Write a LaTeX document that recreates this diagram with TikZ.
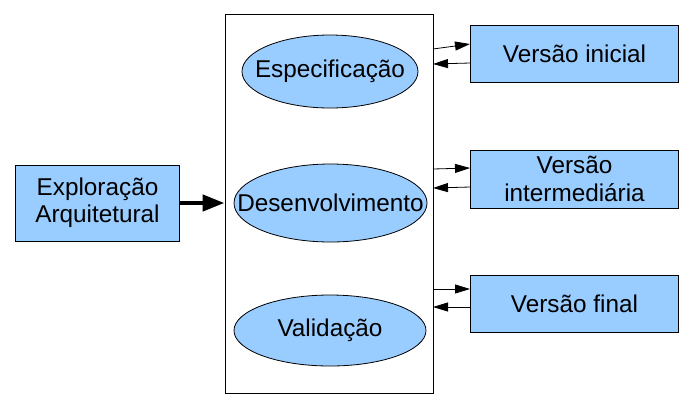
\documentclass[tikz,border=0pt]{standalone}
\usepackage{fontspec}
\setmainfont{Liberation Sans}
\usetikzlibrary{arrows.meta,shapes.geometric}
\definecolor{boxblue}{RGB}{153,204,255}
\tikzset{
  txt/.style={font=\fontsize{24.4}{27.5}\selectfont, align=center, text=black},
  bluebox/.style={txt, draw=black, line width=1bp, fill=boxblue, inner sep=0pt},
  blueell/.style={ellipse, draw=black, line width=0.8bp, fill=boxblue, inner sep=0pt},
  thinarr/.style={line width=0.8bp, -{Triangle[length=15bp,width=9bp]}},
  thickarr/.style={line width=4.5bp, -{Triangle[length=22bp,width=16bp]}}
}
\begin{document}
\begin{tikzpicture}[x=1bp,y=-1bp]
\useasboundingbox (0,0) rectangle (690,410);
% frame
\node[draw=black, line width=1bp, minimum width=208bp, minimum height=379bp, inner sep=0pt] (frame) at (329,203.5) {};
% ellipses
\node[blueell, minimum width=176bp, minimum height=73bp, label={[txt]center:Especificação}] (esp) at (330,71.5) {};
\node[blueell, minimum width=193bp, minimum height=78bp, label={[txt]center:Desenvolvimento}] (des) at (330.5,203) {};
\node[blueell, minimum width=192bp, minimum height=71bp, label={[txt]center:Validação}] (val) at (330,330.5) {};
% right boxes
\node[bluebox, minimum width=208bp, minimum height=57bp] (v1) at (574.5,53.5) {Versão inicial};
\node[bluebox, minimum width=208bp, minimum height=58bp] (v2) at (574.5,179) {Versão\\intermediária};
\node[bluebox, minimum width=208bp, minimum height=57bp] (v3) at (574.5,303.5) {Versão final};
% left box
\node[bluebox, minimum width=163bp, minimum height=76bp] (exp) at (97.5,203) {Exploração\\Arquitetural};
% coordinates on frame edge
\coordinate (a1) at (433,49);
\coordinate (b1) at (433,64);
\coordinate (a2) at (433,169);
\coordinate (b2) at (433,188);
\coordinate (a3) at (433,289);
\coordinate (b3) at (433,307);
% arrows
\draw[thinarr] (a1) -- (v1.west |- 0,44);
\draw[thinarr] (v1.west |- 0,63) -- (b1);
\draw[thinarr] (a2) -- (v2.west |- 0,168);
\draw[thinarr] (v2.west |- 0,187) -- (b2);
\draw[thinarr] (a3) -- (v3.west |- 0,289);
\draw[thinarr] (v3.west |- 0,307) -- (b3);
\draw[thickarr] (exp.east) -- (frame.west |- exp.east);
\end{tikzpicture}
\end{document}
